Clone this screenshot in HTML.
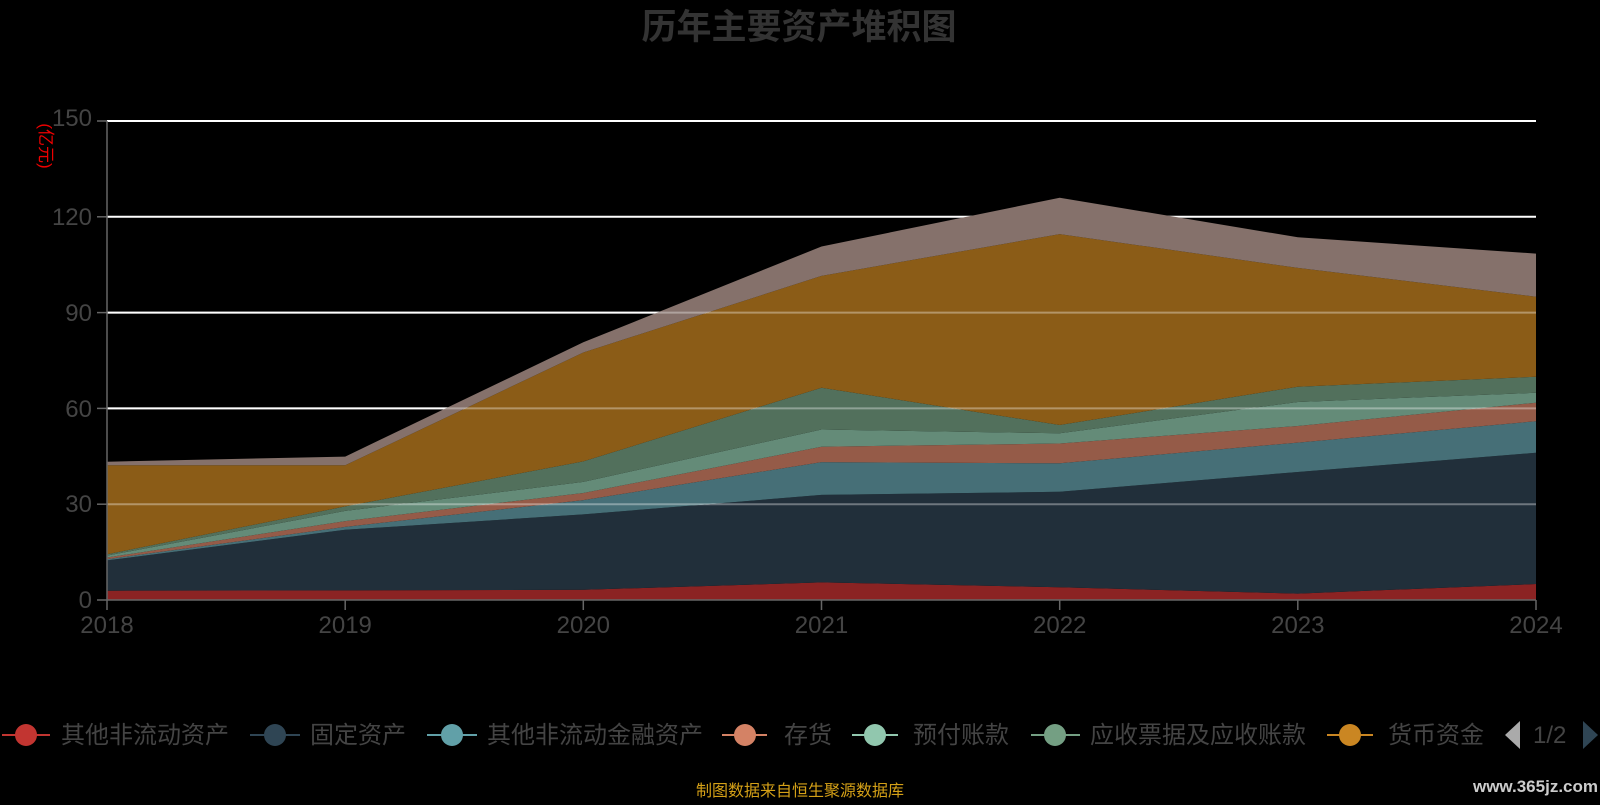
<!DOCTYPE html><html><head><meta charset="utf-8"><style>body{margin:0;background:#000;width:1600px;height:800px;overflow:hidden;font-family:"Liberation Sans","Noto Sans CJK SC",sans-serif}</style></head><body>
<svg width="1600" height="800" xmlns="http://www.w3.org/2000/svg" font-family="Liberation Sans, Noto Sans CJK SC, sans-serif">
<text x="799" y="39" text-anchor="middle" font-size="35" font-weight="bold" fill="#333">历年主要资产堆积图</text>
<text transform="translate(40,146) rotate(90)" text-anchor="middle" font-size="17" fill="#e00">(亿元)</text>
<g stroke="#fff" stroke-width="2"><line x1="107" x2="1536" y1="121" y2="121"/><line x1="107" x2="1536" y1="216.8" y2="216.8"/><line x1="107" x2="1536" y1="312.6" y2="312.6"/><line x1="107" x2="1536" y1="408.4" y2="408.4"/><line x1="107" x2="1536" y1="504.2" y2="504.2"/></g>
<polygon fill="#8b2323" points="107,590.7 345.2,590.4 583.3,589.8 821.5,582.4 1059.7,587.2 1297.8,593.6 1536,584 1536,600 107,600"/>
<polygon fill="#212f3a" points="107,560.4 345.2,529.8 583.3,514.4 821.5,494.9 1059.7,491.8 1297.8,472 1536,452.8 1536,584 1297.8,593.6 1059.7,587.2 821.5,582.4 583.3,589.8 345.2,590.4 107,590.7"/>
<polygon fill="#466f77" points="107,559.1 345.2,526.9 583.3,500.1 821.5,462.1 1059.7,463.3 1297.8,442.6 1536,421.2 1536,452.8 1297.8,472 1059.7,491.8 821.5,494.9 583.3,514.4 345.2,529.8 107,560.4"/>
<polygon fill="#955b48" points="107,557.5 345.2,521.1 583.3,493 821.5,446.7 1059.7,443.5 1297.8,426 1536,402.7 1536,421.2 1297.8,442.6 1059.7,463.3 821.5,462.1 583.3,500.1 345.2,526.9 107,559.1"/>
<polygon fill="#648b78" points="107,555.6 345.2,510.9 583.3,481.9 821.5,429.5 1059.7,433.3 1297.8,402 1536,392.8 1536,402.7 1297.8,426 1059.7,443.5 821.5,446.7 583.3,493 345.2,521.1 107,557.5"/>
<polygon fill="#52705c" points="107,554.3 345.2,506.4 583.3,461.4 821.5,387.7 1059.7,425 1297.8,386.7 1536,376.8 1536,392.8 1297.8,402 1059.7,433.3 821.5,429.5 583.3,481.9 345.2,510.9 107,555.6"/>
<polygon fill="#8b5c17" points="107,465.3 345.2,465.3 583.3,352.5 821.5,275.9 1059.7,234.1 1297.8,267.9 1536,296.7 1536,376.8 1297.8,386.7 1059.7,425 821.5,387.7 583.3,461.4 345.2,506.4 107,554.3"/>
<polygon fill="#85716b" points="107,461.7 345.2,456.6 583.3,342.3 821.5,246.5 1059.7,197.7 1297.8,237.3 1536,253.6 1536,296.7 1297.8,267.9 1059.7,234.1 821.5,275.9 583.3,352.5 345.2,465.3 107,465.3"/>
<g stroke="#fff" stroke-width="2" stroke-opacity="0.35"><line x1="107" x2="1536" y1="312.6" y2="312.6"/><line x1="107" x2="1536" y1="408.4" y2="408.4"/><line x1="107" x2="1536" y1="504.2" y2="504.2"/></g>
<g stroke="#666" stroke-width="1.5"><line x1="107" x2="107" y1="121" y2="600"/><line x1="107" x2="1536" y1="600" y2="600"/>
<line x1="97" x2="107" y1="121" y2="121"/><line x1="97" x2="107" y1="216.8" y2="216.8"/><line x1="97" x2="107" y1="312.6" y2="312.6"/><line x1="97" x2="107" y1="408.4" y2="408.4"/><line x1="97" x2="107" y1="504.2" y2="504.2"/><line x1="97" x2="107" y1="600" y2="600"/>
<line x1="107" x2="107" y1="600" y2="610"/><line x1="345.2" x2="345.2" y1="600" y2="610"/><line x1="583.3" x2="583.3" y1="600" y2="610"/><line x1="821.5" x2="821.5" y1="600" y2="610"/><line x1="1059.7" x2="1059.7" y1="600" y2="610"/><line x1="1297.8" x2="1297.8" y1="600" y2="610"/><line x1="1536" x2="1536" y1="600" y2="610"/></g>
<g fill="#444" font-size="24" text-anchor="end"><text x="92" y="126">150</text><text x="92" y="225">120</text><text x="92" y="321">90</text><text x="92" y="417">60</text><text x="92" y="512">30</text><text x="92" y="608">0</text></g>
<g fill="#444" font-size="24" text-anchor="middle"><text x="107" y="633">2018</text><text x="345.2" y="633">2019</text><text x="583.3" y="633">2020</text><text x="821.5" y="633">2021</text><text x="1059.7" y="633">2022</text><text x="1297.8" y="633">2023</text><text x="1536" y="633">2024</text></g>
<g font-size="24" fill="#444">
<line x1="2" x2="50" y1="735" y2="735" stroke="#c23531" stroke-width="2"/><circle cx="26" cy="735" r="11" fill="#c23531"/><text x="61" y="743">其他非流动资产</text>
<line x1="250" x2="300" y1="735" y2="735" stroke="#2f4554" stroke-width="2"/><circle cx="275" cy="735" r="11" fill="#2f4554"/><text x="310" y="743">固定资产</text>
<line x1="427" x2="477" y1="735" y2="735" stroke="#61a0a8" stroke-width="2"/><circle cx="452" cy="735" r="11" fill="#61a0a8"/><text x="487" y="743">其他非流动金融资产</text>
<line x1="722" x2="767" y1="735" y2="735" stroke="#d48265" stroke-width="2"/><circle cx="745" cy="735" r="11" fill="#d48265"/><text x="784" y="743">存货</text>
<line x1="852" x2="898" y1="735" y2="735" stroke="#91c7ae" stroke-width="2"/><circle cx="875" cy="735" r="11" fill="#91c7ae"/><text x="913" y="743">预付账款</text>
<line x1="1031" x2="1080" y1="735" y2="735" stroke="#749f83" stroke-width="2"/><circle cx="1055" cy="735" r="11" fill="#749f83"/><text x="1090" y="743">应收票据及应收账款</text>
<line x1="1327" x2="1373" y1="735" y2="735" stroke="#ca8622" stroke-width="2"/><circle cx="1350" cy="735" r="11" fill="#ca8622"/><text x="1388" y="743">货币资金</text>
<polygon points="1520,721 1520,749 1505,735" fill="#aaa"/><text x="1533" y="743">1/2</text><polygon points="1583,721 1583,749 1598,735" fill="#2f4554"/>
</g>
<text x="800" y="796" text-anchor="middle" font-size="16" fill="#d4a017">制图数据来自恒生聚源数据库</text>
<text x="1598" y="792" text-anchor="end" font-size="17" font-weight="bold" fill="#ccc">www.365jz.com</text>
</svg></body></html>
